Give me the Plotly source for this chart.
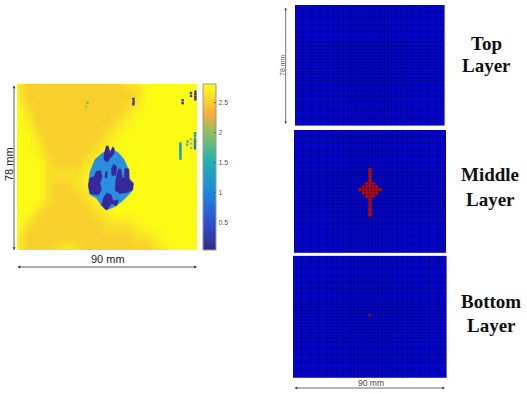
import plotly.graph_objects as go

W, H = 527, 394

# ---------- left panel data (mm) ----------
field_x = [0, 5, 10, 15, 20, 25, 30, 35, 40, 45, 50, 55, 60, 65, 70, 75, 80, 85, 90]
field_y = [78, 72, 66, 60, 54, 48, 42, 36, 30, 24, 18, 12, 6, 0]
field_rows = [  # each digit d means a value of 2 + d/10
    "7555555555566888888",
    "7555555555556888888",
    "8655555555567888888",
    "8755555555678888888",
    "8865555556788888888",
    "8875555567888888888",
    "8886555678888888888",
    "8886666788888888888",
    "8886556788888888888",
    "8886555678888888888",
    "8865555567888888888",
    "8655555556667888888",
    "7555555555556678888",
    "7555676555555567888",
]
field_z = [[2 + int(c) / 10 for c in row] for row in field_rows]

blob_x = [42.3, 45, 48.2, 50.7, 53.5, 55.7, 56.2, 58.2, 57.8, 55.7, 52.3, 49, 44.8, 42.3, 39.8, 36.2, 35.7, 36.5, 39]
blob_y = [45.4, 46.5, 47, 45.7, 42.6, 37.9, 33.7, 31.3, 28.2, 25.8, 22.7, 20.4, 18.8, 20.7, 24.3, 26.3, 30.5, 36.8, 42.6]

core_a_x = [44.5, 45.7, 46.5, 47.8, 48.7, 48.5, 46.5, 45.2, 43.5, 43.5]
core_a_y = [48.9, 48.9, 45.4, 48.5, 47.7, 45.4, 43, 41.4, 42.3, 45.4]
core_b_x = [41.8, 42.5, 41.5, 42.3, 40.7, 36.8, 35.7, 36.3, 38.6, 39.6]
core_b_y = [37.5, 34.5, 31.3, 28.2, 25.8, 26.3, 29.8, 33.7, 34.5, 37]
core_c_x = [50.5, 52, 52.6, 53.6, 54, 56, 56, 58.2, 57.8, 54.8, 51.5, 49, 49.5]
core_c_y = [38, 38, 34, 34, 38.3, 38, 33, 31.3, 28.2, 26.9, 26.6, 28, 33.7]
core_d_x = [48.2, 49.8, 49.5, 47.5, 47.2]
core_d_y = [40.4, 39.2, 35.2, 34.8, 38.4]
core_e_x = [44.8, 47.3, 47.8, 50.7, 49.8, 47.3, 45.7, 44.5, 42.3, 43.5]
core_e_y = [26.9, 25.8, 23.2, 23.5, 20.7, 21.9, 19.6, 18.8, 21.1, 25.1]
core_f_x = [44.2, 45.2, 44.8, 43.8]
core_f_y = [36.8, 36.8, 33.7, 34.2]

speck_x = [58.2, 58.3, 58.2, 35.2, 34.6, 82.8, 82.8,
           89.2, 89.2, 89.2, 89.2, 87, 87,
           81.7, 81.7, 81.7, 81.7, 81.7, 81.7, 81.7, 81.7,
           89, 89, 89, 89, 89, 89, 89,
           85.3, 85, 87, 87, 87]
speck_y = [68.5, 69.7, 71, 69.2, 67.5, 69, 70.4,
           70.8, 72, 73.2, 74.4, 72.4, 73.8,
           43, 44, 45, 46, 47, 48, 49, 50,
           47.8, 49, 50, 51, 52, 53.5, 54.8,
           51, 49.5, 52, 50, 48]
speck_v = [0.1, 0.1, 0.1, 1.9, 2.2, 0.1, 0.1,
           0.1, 0.1, 0.1, 0.1, 0.3, 0.3,
           1.0, 1.2, 1.0, 1.2, 1.0, 1.2, 1.0, 1.2,
           0.8, 0.8, 0.9, 0.8, 0.9, 1.0, 1.0,
           1.6, 1.7, 2.2, 2.2, 2.2]

# ---------- right panels data (mm) ----------
mesh_x = [0, 5, 10, 15, 20, 23, 26, 29, 32, 34, 36, 38, 40, 42, 44, 46, 48, 50, 52, 54, 56, 58, 61, 64, 67, 70, 75, 80, 85, 90]
mesh_y = [0, 5, 10, 15, 19, 23, 26, 29, 31, 33, 35, 37, 39, 41, 43, 45, 47, 49, 51, 54, 57, 61, 65, 70, 74, 78]

# left edge of red cells per row bottom edge
middle_red = {
    23: [44], 26: [44], 29: [44], 31: [44], 33: [44],
    35: [42, 44, 46],
    37: [40, 42, 44, 46, 48],
    39: [38, 40, 42, 44, 46, 48, 50],
    41: [40, 42, 44, 46, 48],
    43: [42, 44, 46],
    45: [44], 47: [44], 49: [44], 51: [44],
}
bottom_red = {39: [44]}
red_level = 1.0
faint_level = 0.55

tick_values = [0.5, 1, 1.5, 2, 2.5]
panel_labels = [("Top", 486, 43), ("Layer", 486, 66), ("Middle", 490, 175),
                ("Layer", 490, 199), ("Bottom", 491, 301), ("Layer", 491, 325)]

# ---------- styling ----------
parula = [[0, "#352a87"], [0.164, "#2f4fd0"], [0.345, "#1e88dc"], [0.527, "#1fb0b0"],
          [0.709, "#90c060"], [0.818, "#f5ab3c"], [0.891, "#f8d02c"], [0.964, "#fbf020"], [1, "#fbfb14"]]
mesh_scale = [[0, "#0505c8"], [0.5, "#0505c8"], [0.55, "#70105a"], [1, "#b80a14"]]
GRID = "rgba(0,0,70,0.42)"


def px(x):
    return x / W


def py(y):
    return 1 - y / H


def grid_z(red):
    z = []
    for y0 in mesh_y[:-1]:
        z.append([(red_level if x0 in red.get(y0, []) and red is middle_red else
                   faint_level if x0 in red.get(y0, []) else 0) for x0 in mesh_x[:-1]])
    return z


fig = go.Figure()
fig.add_trace(go.Heatmap(
    x=field_x, y=field_y, z=field_z, zmin=0.05, zmax=2.8, zsmooth="best", colorscale=parula,
    xaxis="x", yaxis="y",
    colorbar=dict(x=px(203), xanchor="left", xpad=0, y=py(250), yanchor="bottom", ypad=0,
                  len=166 / H, lenmode="fraction", thickness=13, outlinecolor="#999999", outlinewidth=1,
                  tickvals=tick_values, ticktext=["0.5", "1", "1.5", "2", "2.5"], ticks="inside",
                  ticklen=2, tickcolor="#444444", tickfont=dict(size=7, color="#555555",
                                                                family="Liberation Sans")),
))
fig.add_trace(go.Scatter(x=blob_x, y=blob_y, fill="toself", fillcolor="#2b8fe0", mode="lines",
                         line=dict(color="#2b8fe0", width=0.5), hoverinfo="skip",
                         xaxis="x", yaxis="y", showlegend=False))
for cx, cy in [(core_a_x, core_a_y), (core_b_x, core_b_y), (core_c_x, core_c_y),
               (core_d_x, core_d_y), (core_e_x, core_e_y), (core_f_x, core_f_y)]:
    fig.add_trace(go.Scatter(x=cx, y=cy, fill="toself", fillcolor="#36289c", mode="lines",
                             line=dict(color="#36289c", width=0.5), hoverinfo="skip",
                             xaxis="x", yaxis="y", showlegend=False))
fig.add_trace(go.Scatter(x=speck_x, y=speck_y, mode="markers", hoverinfo="skip", showlegend=False,
                         marker=dict(size=2.4, symbol="square", color=speck_v, colorscale=parula,
                                     cmin=0.05, cmax=2.8, line=dict(width=0)),
                         xaxis="x", yaxis="y"))

line_x, line_y = [], []
for v in mesh_x:
    line_x += [v, v, None]
    line_y += [0, 78, None]
for v in mesh_y:
    line_x += [0, 90, None]
    line_y += [v, v, None]

for i, red in enumerate([{}, middle_red, bottom_red], start=2):
    fig.add_trace(go.Heatmap(x=mesh_x, y=mesh_y, z=grid_z(red), zmin=0, zmax=1, colorscale=mesh_scale,
                             showscale=False, xaxis=f"x{i}", yaxis=f"y{i}"))
    fig.add_trace(go.Scatter(x=line_x, y=line_y, mode="lines", line=dict(color=GRID, width=0.8),
                             hoverinfo="skip", showlegend=False, xaxis=f"x{i}", yaxis=f"y{i}"))

hidden = dict(visible=False, showgrid=False, zeroline=False, fixedrange=True)
panels = {
    "": (17, 197, 84, 250, 90, 78),
    "2": (295, 444.5, 5, 125.5, 90, 78),
    "3": (294, 446, 130, 252.7, 90, 78),
    "4": (293, 446.5, 255.7, 378, 90, 78),
}
layout_axes = {}
for key, (x0, x1, y0, y1, xm, ym) in panels.items():
    layout_axes[f"xaxis{key}"] = dict(domain=[px(x0), px(x1)], range=[0, xm], anchor=f"y{key}", **hidden)
    layout_axes[f"yaxis{key}"] = dict(domain=[py(y1), py(y0)], range=[0, ym], anchor=f"x{key}", **hidden)

annotations = []


def arrow(x0, y0, x1, y1, color, width=0.8):
    annotations.append(dict(x=px(x1), y=py(y1), ax=x0 - x1, ay=y0 - y1, xref="paper", yref="paper",
                            axref="pixel", ayref="pixel", text="", showarrow=True, arrowhead=2,
                            arrowside="end+start", arrowsize=0.7, arrowwidth=width, arrowcolor=color))


def label(text, x, y, size, color="#222222", family="Liberation Sans", angle=0, bold=False):
    annotations.append(dict(x=px(x), y=py(y), xref="paper", yref="paper", text=f"<b>{text}</b>" if bold else text,
                            showarrow=False, textangle=angle, xanchor="center", yanchor="middle",
                            font=dict(size=size, color=color, family=family)))


arrow(14, 84, 14, 250, "#333333")
arrow(16, 267, 197, 267, "#333333")
arrow(285.7, 6, 285.7, 124, "#555555")
arrow(293, 388, 445, 388, "#444444")
label("78 mm", 9, 164, 11, angle=-90)
label("90 mm", 108, 259, 11)
label("78 mm", 282, 65, 7, color="#555555", angle=-90)
label("90 mm", 371, 383, 8.5, color="#444444")
for text, x, y in panel_labels:
    label(text, x, y, 19, color="#111111", family="Liberation Serif", bold=True)

fig.update_layout(width=W, height=H, margin=dict(l=0, r=0, t=0, b=0), paper_bgcolor="white",
                  plot_bgcolor="white", showlegend=False, annotations=annotations, **layout_axes)
fig.write_html("out.html", config=dict(displayModeBar=False),
               post_script="document.body.style.margin='0';document.body.style.overflow='hidden';")
